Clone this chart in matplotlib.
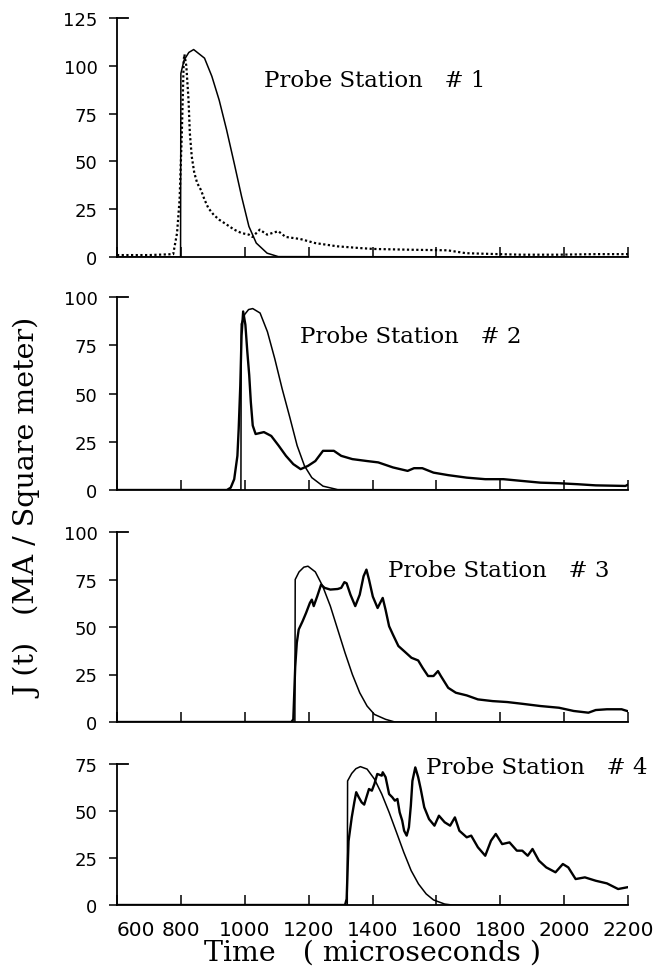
import matplotlib
matplotlib.use("Agg")
import matplotlib.pyplot as plt

# ---------------- data ----------------
# Panel 1 : model (solid) and measured (dotted)
p1_model_t = [600, 799, 800, 810, 825, 840, 874, 897, 920, 943, 967, 990, 1013, 1036, 1070, 1105, 2200]
p1_model_j = [0, 0, 96, 103, 107, 108.5, 104, 94.5, 82, 66.6, 49, 31.7, 16, 7.3, 2, 0.2, 0]
p1_meas_t = [600, 700, 776, 788, 796, 803, 809, 811, 817, 824, 828, 834, 842, 851, 863, 874, 886, 903,
             920, 943, 967, 990, 1013, 1024, 1047, 1070, 1105, 1128, 1174, 1220, 1289, 1358, 1404,
             1519, 1635, 1692, 1750, 1865, 1980, 2100, 2200]
p1_meas_j = [1, 1, 1.5, 12.5, 30, 65, 103, 106, 100, 82, 65, 52.6, 44, 38.7, 35, 30, 25.6, 22,
             19.5, 17, 14.3, 12.5, 11.7, 10.5, 14.3, 11.7, 13.5, 10.5, 9.4, 7.3, 5.6, 4.7, 4.2,
             3.8, 3.5, 2, 1.7, 1.2, 1.2, 1.5, 1.5]

# Panel 2
p2_model_t = [600, 988, 989, 1000, 1012, 1025, 1048, 1071, 1094, 1117, 1141, 1164, 1187, 1210, 1245, 1291, 2200]
p2_model_j = [0, 0, 86, 91, 93.5, 94, 91.7, 82, 68, 52.5, 37.7, 23, 12.5, 6.4, 2, 0.2, 0]
p2_meas_t = [600, 944, 956, 967, 977, 981, 986, 990, 995, 1002, 1008, 1014, 1019, 1025, 1034, 1060,
             1083, 1106, 1129, 1152, 1175, 1198, 1221, 1245, 1279, 1302, 1337, 1383, 1418, 1464,
             1510, 1530, 1556, 1591, 1637, 1695, 1753, 1810, 1868, 1926, 1984, 2042, 2099, 2192, 2200]
p2_meas_j = [0, 0, 1.2, 5.6, 17.7, 31.7, 54, 80, 92.5, 85.6, 71.7, 59.5, 45.6, 33.4, 29, 30,
             28, 23, 17.7, 13.4, 10.8, 12.5, 15, 20.3, 20.3, 17.7, 16, 15, 14.3, 11.7,
             9.9, 11.3, 11.3, 9, 7.7, 6.4, 5.6, 5.6, 4.7, 3.8, 3.5, 3, 2.4, 2.1, 2.8]

# Panel 3
p3_model_t = [600, 1157, 1158, 1170, 1185, 1198, 1221, 1244, 1268, 1291, 1314, 1337, 1360, 1383,
              1406, 1441, 1470, 2200]
p3_model_j = [0, 0, 75, 79, 81.5, 82, 79, 71.5, 61, 48.7, 36.4, 25, 15.4, 8.4, 4, 1.4, 0, 0]
p3_meas_t = [600, 1146, 1152, 1158, 1163, 1169, 1181, 1192, 1204, 1210, 1216, 1227, 1239, 1250,
             1268, 1291, 1302, 1312, 1319, 1331, 1346, 1360, 1372, 1381, 1389, 1401, 1416, 1424,
             1432, 1441, 1452, 1464, 1481, 1499, 1522, 1543, 1557, 1574, 1591, 1605, 1614, 1637,
             1661, 1695, 1730, 1776, 1822, 1868, 1926, 1984, 2030, 2076, 2099, 2134, 2180, 2197]
p3_meas_j = [0, 0, 1.4, 29, 41.7, 48.7, 53, 57.4, 62.7, 64.4, 61, 66.2, 72.3, 70.6,
             69.7, 70, 70.6, 73.6, 73, 67, 61, 67, 76.7, 80.2, 75, 66, 60, 62.7,
             65.3, 59, 50.4, 46, 40, 37.3, 33.8, 32.4, 28.5, 24.2, 24.2, 26.8, 24.2, 18,
             15.4, 14, 11.9, 11, 10.5, 9.6, 8.4, 7.5, 5.8, 4.9, 6.3, 6.7, 6.7, 5.8]

# Panel 4
p4_model_t = [600, 1321, 1322, 1335, 1348, 1362, 1383, 1406, 1429, 1452, 1475, 1498, 1521, 1544,
              1568, 1591, 1626, 1649, 2200]
p4_model_j = [0, 0, 66, 70, 72.5, 73.6, 72.3, 67, 59, 49.3, 38.7, 28, 18.3, 11.2, 5.9, 2.7, 0.5, 0, 0]
p4_meas_t = [600, 1314, 1319, 1325, 1335, 1343, 1349, 1357, 1366, 1374, 1381, 1389, 1398, 1406,
             1415, 1429, 1432, 1441, 1452, 1462, 1470, 1478, 1485, 1493, 1499, 1507, 1514, 1520,
             1525, 1534, 1543, 1551, 1562, 1577, 1594, 1608, 1626, 1643, 1658, 1672, 1695, 1709,
             1730, 1753, 1771, 1786, 1806, 1829, 1852, 1869, 1886, 1901, 1921, 1944, 1973, 1996,
             2013, 2036, 2065, 2099, 2134, 2169, 2197]
p4_meas_j = [0, 0, 3.2, 34, 46.6, 54.6, 60, 57.3, 54.6, 53.4, 57.3, 61.7, 60.8, 64.4,
             69.7, 68.8, 70.6, 68, 59, 57.3, 55.5, 56.4, 49.3, 44.9, 39.5, 36.9, 41.3, 52.8,
             66, 73.2, 68, 61.7, 52, 45.7, 42.2, 47.5, 44, 42.2, 46.6, 39.5, 36, 36.9,
             30.7, 26.2, 34.2, 37.8, 32.4, 33.3, 28.9, 28.9, 26.2, 29.8, 23.6, 20, 17.4, 21.8,
             20, 13.8, 14.7, 12.9, 11.5, 8.5, 9.4]

panels = [
    (p1_model_t, p1_model_j, p1_meas_t, p1_meas_j, 125, [0, 25, 50, 75, 100, 125], "Probe Station   # 1", (1060, 92.5)),
    (p2_model_t, p2_model_j, p2_meas_t, p2_meas_j, 100, [0, 25, 50, 75, 100], "Probe Station   # 2", (1173, 80)),
    (p3_model_t, p3_model_j, p3_meas_t, p3_meas_j, 100, [0, 25, 50, 75, 100], "Probe Station   # 3", (1450, 80)),
    (p4_model_t, p4_model_j, p4_meas_t, p4_meas_j, 75, [0, 25, 50, 75], "Probe Station   # 4", (1566, 73.5)),
]

x_ticks = [600, 800, 1000, 1200, 1400, 1600, 1800, 2000, 2200]
x_ticklabels = ["600", "800", "1000", "1200", "1400", "1600", "1800", "2000", "2200"]

# ---------------- layout ----------------
W, H = 659, 970
fig = plt.figure(figsize=(W / 100, H / 100), dpi=100)
fig.patch.set_facecolor("white")

left_px, right_px = 117, 628
rects_px = [(19, 258), (298, 491), (533, 723), (765, 906)]  # (top, bottom) in pixels

serif = ["DejaVu Serif"]
for i, ((mt, mj, dt, dj, ymax, yt, title, tpos), (top, bot)) in enumerate(zip(panels, rects_px)):
    ax = fig.add_axes([left_px / W, (H - bot) / H, (right_px - left_px) / W, (bot - top) / H])
    ax.set_xlim(600, 2200)
    ax.set_ylim(0, ymax)
    ax.plot(mt, mj, color="black", lw=1.1)
    if i == 0:
        ax.plot(dt, dj, color="black", lw=1.6, linestyle=(0, (1, 1.1)))
    else:
        ax.plot(dt, dj, color="black", lw=1.7)
    for s in ["top", "right"]:
        ax.spines[s].set_visible(False)
    for s in ["left", "bottom"]:
        ax.spines[s].set_linewidth(1.3)
    ax.set_yticks(yt)
    ax.set_yticklabels([str(v) for v in yt])
    ax.tick_params(axis="y", direction="out", length=6, width=1.1, pad=8, labelsize=13)
    ax.set_xticks(x_ticks)
    ax.tick_params(axis="x", direction="in", length=7, width=1.1, pad=11, labelsize=14.5)
    if i == 3:
        ax.set_xticklabels(x_ticklabels)
        lbls = ax.get_xticklabels()
        lbls[0].set_ha("left")
    else:
        ax.set_xticklabels([])
    # small inward cap at the top of the y axis
    ax.plot([0, 0.022], [1, 1], transform=ax.transAxes, color="black", lw=1.3, clip_on=False)
    ax.text(tpos[0], tpos[1], title, fontsize=16.5, family=serif, va="center", ha="left", clip_on=False)

fig.text(29 / W, (H - 508) / H, "J (t)   (MA / Square meter)", rotation=90, fontsize=20.5,
         family=serif, ha="center", va="center")
fig.text(373 / W, (H - 953) / H, "Time   ( microseconds )", fontsize=20.5, family=serif,
         ha="center", va="center")

fig.savefig("out.png", dpi=100, facecolor="white")
